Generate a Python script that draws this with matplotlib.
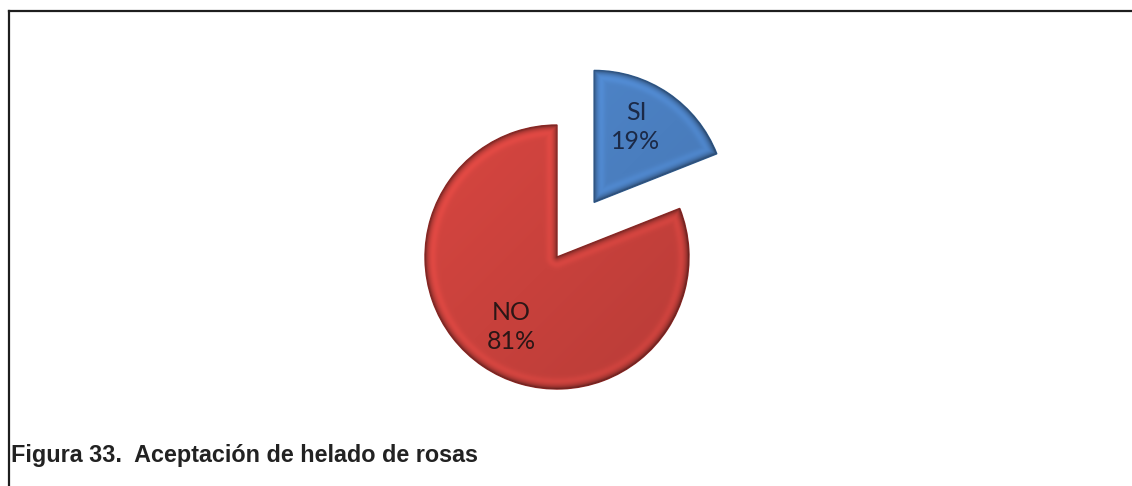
import matplotlib
matplotlib.use('Agg')
import matplotlib.pyplot as plt
from matplotlib.lines import Line2D
import numpy as np

labels = ['SI', 'NO']
shares = [19, 81]
explode = [0.5, 0.0]
colors = ['#4a7ebf', '#c8413c']
edge_colors = ['#2e5b8e', '#8e2623']
text_colors = ['#1b2946', '#2b1616']
caption = 'Figura 33.  Aceptación de helado de rosas'

W, H = 1132, 486
PX = 132.0          # pixels per data unit (pie radius = 1)
CX, CY = 557, 257   # pie centre in pixels from the top left


def to_data(px, py):
    return (px - CX) / PX, (CY - py) / PX


def wedge_distance(xx, yy, w):
    # distance (in data units) from each point to the wedge outline
    cx, cy = w.center
    vx, vy = xx - cx, yy - cy
    d = w.r - np.hypot(vx, vy)
    for th in (w.theta1, w.theta2):
        ux, uy = np.cos(np.deg2rad(th)), np.sin(np.deg2rad(th))
        t = np.clip(vx * ux + vy * uy, 0, w.r)
        d = np.minimum(d, np.hypot(vx - t * ux, vy - t * uy))
    return np.clip(d, 0, None)


def bevel(ax, w, color):
    cx, cy = w.center
    n = int(2 * w.r * PX) + 4
    xs = np.linspace(cx - w.r, cx + w.r, n)
    ys = np.linspace(cy - w.r, cy + w.r, n)
    xx, yy = np.meshgrid(xs, ys)
    d = wedge_distance(xx, yy, w) * PX
    shade = 1 - 0.42 * np.exp(-d / 2.5) + 0.10 * np.exp(-((d - 7) / 4) ** 2)
    # slight light-from-top-left tint
    shade += 0.04 * ((yy - cy) - (xx - cx)) / w.r
    rgb = np.array(matplotlib.colors.to_rgb(color))
    img = np.clip(rgb[None, None, :] * shade[..., None], 0, 1)
    im = ax.imshow(img, extent=(xs[0], xs[-1], ys[0], ys[-1]), origin='lower',
                   interpolation='bilinear', zorder=2)
    im.set_clip_path(w)


fig = plt.figure(figsize=(W / 100, H / 100), dpi=100)
ax = fig.add_axes([0, 0, 1, 1])

wedges, _ = ax.pie(shares, explode=explode, colors=colors, startangle=90,
                   counterclock=False, radius=1.0)
for w, ec, fc in zip(wedges, edge_colors, colors):
    w.set_edgecolor(ec)
    w.set_linewidth(1.0)
    w.set_zorder(1)
    bevel(ax, w, fc)

ax.set_xlim(-CX / PX, (W - CX) / PX)
ax.set_ylim(-(H - CY) / PX, CY / PX)
ax.set_aspect('auto')
ax.axis('off')

# data labels
label_pos = [to_data(636, 127), to_data(511, 327)]
for (lx, ly), lab, val, tc in zip(label_pos, labels, shares, text_colors):
    ax.text(lx, ly, f'{lab}\n{val}%', ha='center', va='center',
            fontsize=18, family='Lato', color=tc, linespacing=1.35, zorder=5)

# frame around the chart
fig.add_artist(Line2D([9 / W, 1], [1 - 11 / H, 1 - 11 / H],
                      transform=fig.transFigure, color='#1e1e1e', lw=1.6))
fig.add_artist(Line2D([9 / W, 9 / W], [0, 1 - 11 / H],
                      transform=fig.transFigure, color='#1e1e1e', lw=1.6))

fig.text(11 / W, 1 - 455 / H, caption, ha='left', va='center',
         fontsize=16.8, fontweight='bold', family='Liberation Sans',
         color='#222222')

fig.savefig('out.png', dpi=100)
